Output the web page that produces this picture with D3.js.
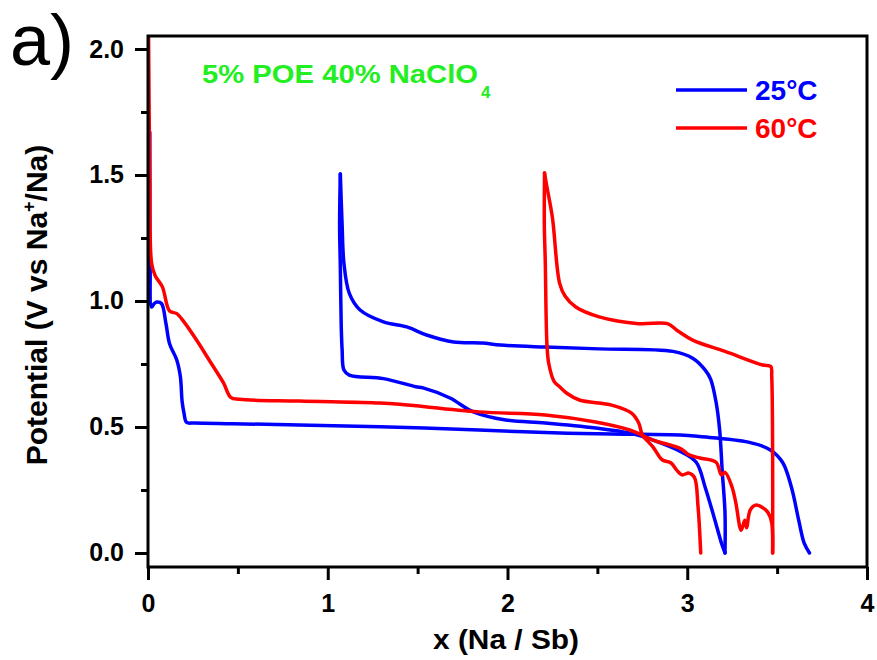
<!DOCTYPE html>
<html>
<head>
<meta charset="utf-8">
<script src="https://cdn.jsdelivr.net/npm/d3@7"></script>
<style>
  html, body { margin: 0; padding: 0; background: #fff; }
  svg { display: block; }
  text { font-family: Arial, "Liberation Sans", sans-serif; }
</style>
</head>
<body>
<svg id="chart" width="877" height="660"></svg>
<script>
// ---------- data (x = Na/Sb, potential in V) ----------
const xMajorTicks = [0, 1, 2, 3, 4];
const xMinorTicks = [0.5, 1.5, 2.5, 3.5];
const yMajorTicks = [0, 0.5, 1.0, 1.5, 2.0];
const yMinorTicks = [0.25, 0.75, 1.25, 1.75];

const seriesNames = ["25°C", "60°C"];
const seriesColors = ["#0000ff", "#ff0000"];

// 25 °C
const blueDischarge1 = [
  [0.010, 1.67], [0.010, 1.40], [0.012, 1.15], [0.020, 0.976], [0.035, 0.99],
  [0.050, 0.996], [0.075, 0.99], [0.100, 0.91], [0.120, 0.83], [0.160, 0.766],
  [0.180, 0.70], [0.190, 0.60], [0.200, 0.556], [0.215, 0.518], [0.26, 0.516],
  [0.47, 0.513], [0.84, 0.508], [1.29, 0.501], [1.84, 0.488], [2.21, 0.478],
  [2.58, 0.472], [2.96, 0.468], [3.07, 0.462], [3.34, 0.44], [3.46, 0.41],
  [3.53, 0.36], [3.58, 0.26], [3.62, 0.13], [3.65, 0.04], [3.68, 0.0]
];
const blueCharge = [
  [3.21, 0.0], [3.21, 0.16], [3.195, 0.32], [3.18, 0.49], [3.16, 0.60],
  [3.13, 0.69], [3.10, 0.726], [3.03, 0.773], [2.92, 0.80], [2.51, 0.81],
  [2.21, 0.817], [1.96, 0.825], [1.86, 0.833], [1.70, 0.837], [1.55, 0.865],
  [1.44, 0.897], [1.31, 0.917], [1.18, 0.964], [1.12, 1.03], [1.09, 1.15],
  [1.08, 1.30], [1.07, 1.504]
];
const blueDischarge2 = [
  [1.07, 1.504], [1.066, 1.30], [1.07, 1.135], [1.075, 0.90], [1.08, 0.806],
  [1.09, 0.726], [1.12, 0.706], [1.31, 0.692], [1.49, 0.66], [1.53, 0.655],
  [1.68, 0.615], [1.81, 0.56], [1.99, 0.528], [2.21, 0.516], [2.49, 0.496],
  [2.68, 0.476], [2.81, 0.448], [2.97, 0.40], [3.05, 0.36], [3.10, 0.26],
  [3.15, 0.14], [3.19, 0.04], [3.21, 0.0]
];

// 60 °C
const redDischarge1 = [
  [0.003, 2.06], [0.010, 1.50], [0.020, 1.15], [0.040, 1.10], [0.080, 1.056],
  [0.120, 0.96], [0.160, 0.95], [0.200, 0.917], [0.270, 0.845], [0.340, 0.766],
  [0.420, 0.675], [0.460, 0.618], [0.510, 0.61], [0.84, 0.603], [1.29, 0.595],
  [1.40, 0.59], [1.84, 0.56], [2.21, 0.548], [2.49, 0.52], [2.68, 0.488],
  [2.81, 0.448], [2.96, 0.415], [3.01, 0.39], [3.07, 0.377], [3.16, 0.36],
  [3.19, 0.31], [3.21, 0.32], [3.25, 0.26], [3.27, 0.20], [3.30, 0.09],
  [3.32, 0.13], [3.33, 0.10], [3.35, 0.17], [3.38, 0.19], [3.42, 0.18],
  [3.45, 0.16], [3.47, 0.12], [3.475, 0.0]
];
const redCharge = [
  [3.475, 0.0], [3.475, 0.40], [3.47, 0.70], [3.465, 0.74], [3.42, 0.746],
  [3.21, 0.80], [3.03, 0.845], [2.95, 0.88], [2.89, 0.91], [2.73, 0.91],
  [2.51, 0.937], [2.38, 0.976], [2.32, 1.02], [2.29, 1.07], [2.25, 1.33],
  [2.22, 1.45], [2.206, 1.508]
];
const redDischarge2 = [
  [2.206, 1.508], [2.205, 1.30], [2.21, 1.16], [2.22, 0.82], [2.23, 0.75],
  [2.26, 0.68], [2.29, 0.66], [2.33, 0.634], [2.40, 0.607], [2.58, 0.587],
  [2.69, 0.555], [2.73, 0.516], [2.75, 0.47], [2.81, 0.42], [2.86, 0.37],
  [2.91, 0.357], [2.94, 0.33], [2.97, 0.31], [3.01, 0.317], [3.04, 0.30],
  [3.06, 0.183], [3.075, 0.0]
];

const blueCurves = [blueDischarge1, blueCharge, blueDischarge2];
const redCurves = [redDischarge1, redCharge, redDischarge2];

// ---------- drawing ----------
const svg = d3.select("#chart");
svg.append("rect").attr("width", 877).attr("height", 660).attr("fill", "#fff");

const x = d3.scaleLinear().domain([0, 4]).range([148, 867]);
const y = d3.scaleLinear().domain([-0.0556, 2.0516]).range([567, 36]);

svg.append("clipPath").attr("id", "plotClip")
  .append("rect")
  .attr("x", x(0)).attr("y", y(2.0516))
  .attr("width", x(4) - x(0)).attr("height", y(-0.0556) - y(2.0516));

const line = d3.line()
  .x(d => x(d[0])).y(d => y(d[1]))
  .curve(d3.curveCatmullRom.alpha(0.5));

const plot = svg.append("g").attr("clip-path", "url(#plotClip)");
[[blueCurves, seriesColors[0]], [redCurves, seriesColors[1]]].forEach(([curves, col]) => {
  curves.forEach(c => {
    plot.append("path").attr("d", line(c))
      .attr("fill", "none").attr("stroke", col)
      .attr("stroke-width", 3.5).attr("stroke-linejoin", "round").attr("stroke-linecap", "round");
  });
});

// frame
svg.append("rect")
  .attr("x", x(0)).attr("y", y(2.0516))
  .attr("width", x(4) - x(0)).attr("height", y(-0.0556) - y(2.0516))
  .attr("fill", "none").attr("stroke", "#000").attr("stroke-width", 3);

function styleAxis(g) {
  g.select(".domain").remove();
  g.selectAll(".tick line").attr("stroke", "#000").attr("stroke-width", 3);
  g.selectAll(".tick text")
    .attr("fill", "#000")
    .style("font-size", "25px").style("font-weight", "bold")
    .style("font-family", "Arial, 'Liberation Sans', sans-serif");
}

svg.append("g").attr("transform", `translate(${x(0)},0)`)
  .call(d3.axisLeft(y).tickValues(yMajorTicks).tickSize(13).tickPadding(11).tickFormat(d3.format(".1f")))
  .call(styleAxis);
svg.append("g").attr("transform", `translate(${x(0)},0)`)
  .call(d3.axisLeft(y).tickValues(yMinorTicks).tickSize(7).tickFormat(""))
  .call(styleAxis);

svg.append("g").attr("transform", `translate(0,${y(-0.0556)})`)
  .call(d3.axisBottom(x).tickValues(xMajorTicks).tickSize(13).tickPadding(14).tickFormat(d3.format("d")))
  .call(styleAxis);
svg.append("g").attr("transform", `translate(0,${y(-0.0556)})`)
  .call(d3.axisBottom(x).tickValues(xMinorTicks).tickSize(7).tickFormat(""))
  .call(styleAxis);

// axis titles
svg.append("text")
  .attr("x", 506).attr("y", 649)
  .attr("text-anchor", "middle")
  .attr("textLength", 146).attr("lengthAdjust", "spacingAndGlyphs")
  .style("font-size", "28px").style("font-weight", "bold")
  .text("x (Na / Sb)");

const yt = svg.append("text")
  .attr("transform", "translate(47,305) rotate(-90)")
  .attr("text-anchor", "middle")
  .style("font-size", "30px").style("font-weight", "bold");
yt.append("tspan").text("Potential (V vs Na");
yt.append("tspan").attr("dy", -12).style("font-size", "18px").text("+");
yt.append("tspan").attr("dy", 12).text("/Na)");

// panel label
svg.append("text")
  .attr("x", 10).attr("y", 65)
  .style("font-size", "72px").style("font-weight", "normal")
  .text("a)");

// annotation
svg.append("text")
  .attr("x", 202).attr("y", 83)
  .attr("fill", "#22ee22")
  .attr("textLength", 276).attr("lengthAdjust", "spacingAndGlyphs")
  .style("font-size", "26px").style("font-weight", "bold")
  .text("5% POE 40% NaClO");
svg.append("text")
  .attr("x", 481).attr("y", 98)
  .attr("fill", "#22ee22")
  .style("font-size", "17px").style("font-weight", "bold")
  .text("4");

// legend
const legendY = [90, 128];
seriesNames.forEach((name, i) => {
  svg.append("line")
    .attr("x1", 676).attr("x2", 747)
    .attr("y1", legendY[i]).attr("y2", legendY[i])
    .attr("stroke", seriesColors[i]).attr("stroke-width", 3.5);
  svg.append("text")
    .attr("x", 755).attr("y", legendY[i] + 10)
    .attr("fill", seriesColors[i])
    .style("font-size", "28px").style("font-weight", "bold")
    .text(name);
});
</script>
</body>
</html>
